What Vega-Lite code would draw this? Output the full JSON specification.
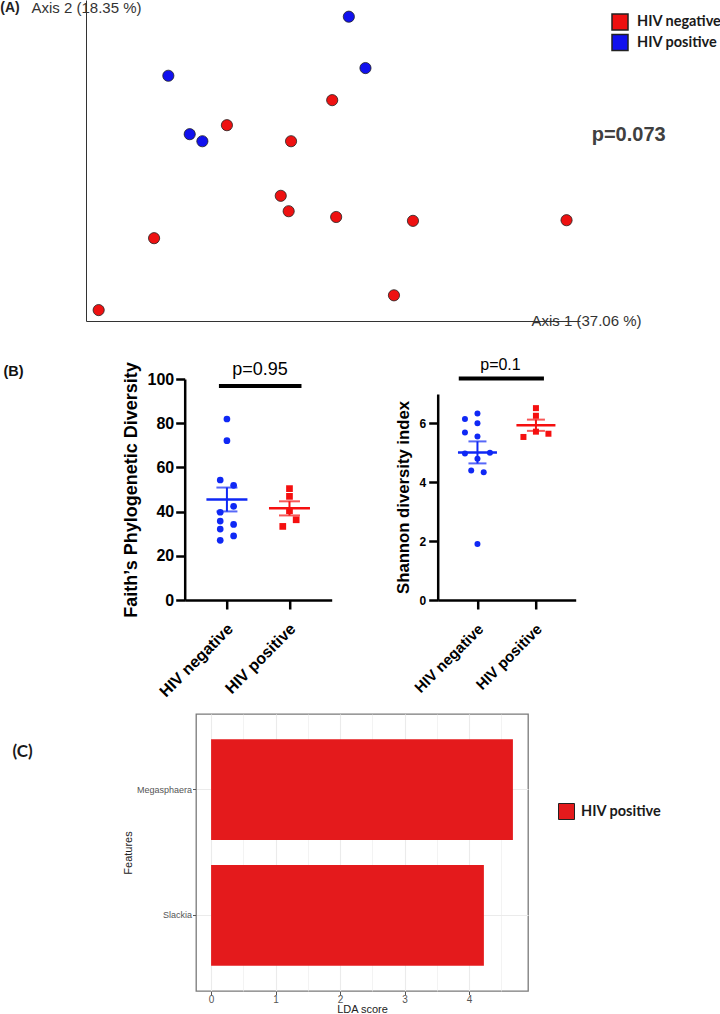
{
  "$schema": "https://vega.github.io/schema/vega-lite/v6.json",
  "background": "white",
  "padding": 0,
  "config": {"view": {"stroke": null}, "font": "Liberation Sans", "axis": {"grid": false}},
  "columns": 1,
  "align": "none",
  "spacing": 28,
  "resolve": {"scale": {"color": "independent", "shape": "independent", "x": "independent", "y": "independent", "xOffset": "independent"}, "legend": {"color": "independent", "shape": "independent"}},
  "concat": [
    {
      "columns": 2,
      "align": "none",
      "spacing": 11,
      "resolve": {"scale": {"color": "independent", "shape": "independent", "x": "independent", "y": "independent"}, "legend": {"color": "independent"}},
      "concat": [
        {
          "width": 20,
          "height": 15,
          "view": {"fill": "white", "stroke": null},
          "data": {"values": [{"panel": "(A)"}]},
          "mark": {"type": "text", "font": "Liberation Sans", "fontSize": 14, "fontWeight": "bold", "color": "#222", "align": "center", "baseline": "middle"},
          "encoding": {"text": {"field": "panel"}}
        },
        {
          "width": 494,
          "height": 321,
          "layer": [
            {
              "data": {"values": [
                {"status": "HIV positive", "axis1": 0.032, "axis2": 0.224},
                {"status": "HIV positive", "axis1": 0.053, "axis2": 0.144},
                {"status": "HIV positive", "axis1": -0.196, "axis2": 0.132},
                {"status": "HIV positive", "axis1": -0.169, "axis2": 0.041},
                {"status": "HIV positive", "axis1": -0.153, "axis2": 0.030},
                {"status": "HIV negative", "axis1": 0.011, "axis2": 0.094},
                {"status": "HIV negative", "axis1": -0.122, "axis2": 0.055},
                {"status": "HIV negative", "axis1": -0.041, "axis2": 0.030},
                {"status": "HIV negative", "axis1": -0.054, "axis2": -0.055},
                {"status": "HIV negative", "axis1": -0.044, "axis2": -0.079},
                {"status": "HIV negative", "axis1": 0.016, "axis2": -0.088},
                {"status": "HIV negative", "axis1": 0.113, "axis2": -0.094},
                {"status": "HIV negative", "axis1": 0.307, "axis2": -0.093},
                {"status": "HIV negative", "axis1": -0.214, "axis2": -0.121},
                {"status": "HIV negative", "axis1": 0.089, "axis2": -0.210},
                {"status": "HIV negative", "axis1": -0.284, "axis2": -0.233}
              ]},
              "mark": {"type": "circle", "size": 125, "opacity": 1, "stroke": "#222", "strokeWidth": 0.8},
              "encoding": {
                "x": {"field": "axis1", "type": "quantitative", "scale": {"domain": [-0.3, 0.324], "nice": false, "zero": false},
                  "axis": {"title": "Axis 1 (37.06 %)", "labels": false, "ticks": false, "grid": false, "domainColor": "#333", "domainWidth": 1, "titleX": 445, "titleY": -1, "titleAlign": "left", "titleBaseline": "middle", "titleFont": "Liberation Sans", "titleFontSize": 15, "titleFontWeight": "normal", "titleColor": "#333"}},
                "y": {"field": "axis2", "type": "quantitative", "scale": {"domain": [-0.25, 0.25], "nice": false, "zero": false},
                  "axis": {"title": "Axis 2 (18.35 %)", "labels": false, "ticks": false, "grid": false, "domainColor": "#333", "domainWidth": 1, "titleAngle": 0, "titleX": -55, "titleY": 7, "titleAlign": "left", "titleBaseline": "middle", "titleFont": "Liberation Sans", "titleFontSize": 15, "titleFontWeight": "normal", "titleColor": "#333"}},
                "color": {"field": "status", "type": "nominal", "scale": {"domain": ["HIV negative", "HIV positive"], "range": ["#ee1111", "#1111ee"]},
                  "legend": {"title": null, "orient": "none", "legendX": 525, "legendY": 13, "symbolType": "square", "symbolSize": 256, "symbolOpacity": 1, "labelFont": "Lato", "labelFontSize": 14.5, "labelFontWeight": "bold", "labelColor": "#1a1a1a", "labelOffset": 8, "rowPadding": -1.5, "padding": 0, "labelLimit": 0,
                    "encode": {"symbols": {"update": {"stroke": {"value": "#222"}, "strokeWidth": {"value": 1}}}}}}
              }
            },
            {
              "data": {"values": [{"label": "p=0.073"}]},
              "mark": {"type": "text", "font": "Liberation Sans", "fontSize": 20, "fontWeight": "bold", "color": "#404040", "align": "center", "baseline": "middle"},
              "encoding": {"x": {"datum": 0.3855}, "y": {"datum": 0.0397}, "text": {"field": "label"}}
            }
          ]
        }
      ]
    },
    {
      "columns": 1,
      "align": "none",
      "spacing": 13,
      "resolve": {"scale": {"color": "independent", "shape": "independent", "x": "independent", "y": "independent", "xOffset": "independent"}, "legend": {"color": "independent", "shape": "independent"}},
      "concat": [
        {
          "columns": 2,
          "align": "none",
          "spacing": 94.7,
          "resolve": {"scale": {"color": "independent", "shape": "independent", "x": "independent", "y": "independent", "xOffset": "independent"}, "legend": {"color": "independent", "shape": "independent"}},
          "concat": [
            {
              "width": 27,
              "height": 1,
              "view": {"fill": "white", "stroke": null},
              "data": {"values": [{"panel": "(B)"}]},
              "mark": {"type": "text", "font": "Liberation Sans", "fontSize": 14.5, "fontWeight": "bold", "color": "#111", "align": "center", "baseline": "middle", "dy": -7.5},
              "encoding": {"text": {"field": "panel"}}
            },
            {
              "columns": 2,
              "align": "none",
              "spacing": 63,
              "resolve": {"scale": {"color": "independent", "shape": "independent", "x": "independent", "y": "independent", "xOffset": "independent"}, "legend": {"color": "independent", "shape": "independent"}},
              "concat": [
                {
                  "width": 147,
                  "height": 221,
                  "data": {"values": [
                    {"group": "HIV negative", "value": 81.9, "j": 0},
                    {"group": "HIV negative", "value": 72.1, "j": 0},
                    {"group": "HIV negative", "value": 54.3, "j": -1},
                    {"group": "HIV negative", "value": 51.9, "j": 1},
                    {"group": "HIV negative", "value": 42.4, "j": 1},
                    {"group": "HIV negative", "value": 39.7, "j": -1},
                    {"group": "HIV negative", "value": 35.7, "j": -1},
                    {"group": "HIV negative", "value": 34.2, "j": 1},
                    {"group": "HIV negative", "value": 32.1, "j": -1},
                    {"group": "HIV negative", "value": 27.0, "j": -1},
                    {"group": "HIV negative", "value": 29.0, "j": 1},
                    {"group": "HIV positive", "value": 50.4, "j": 0},
                    {"group": "HIV positive", "value": 46.9, "j": 0},
                    {"group": "HIV positive", "value": 40.4, "j": 0},
                    {"group": "HIV positive", "value": 36.3, "j": 1},
                    {"group": "HIV positive", "value": 33.3, "j": -1}
                  ]},
                  "layer": [
                    {
                      "mark": {"type": "point", "filled": true, "opacity": 1, "size": 45},
                      "encoding": {
                        "x": {"field": "group", "type": "nominal", "title": null, "scale": {"type": "point", "padding": 0.675, "domain": ["HIV negative", "HIV positive"]},
                          "axis": {"labelAngle": -45, "labelAlign": "right", "labelBaseline": "middle", "labelFont": "Liberation Sans", "labelFontSize": 16, "labelFontWeight": "bold", "labelColor": "#000", "labelPadding": 17, "labelOffset": 3, "labelLimit": 0, "tickSize": 9, "tickWidth": 2.5, "tickColor": "#000", "domainColor": "#000", "domainWidth": 2.5}},
                        "xOffset": {"field": "j", "type": "quantitative", "scale": {"domain": [-2, 2], "range": [-13.4, 13.4]}},
                        "y": {"field": "value", "type": "quantitative", "title": "Faith’s Phylogenetic Diversity", "scale": {"domain": [0, 100], "nice": false},
                          "axis": {"values": [0, 20, 40, 60, 80, 100], "labelFont": "Liberation Sans", "labelFontSize": 16, "labelFontWeight": "bold", "labelColor": "#000", "labelPadding": 2, "tickSize": 9, "tickWidth": 2.5, "tickColor": "#000", "domainColor": "#000", "domainWidth": 2.5, "titleFont": "Liberation Sans", "titleFontSize": 18, "titleFontWeight": "bold", "titleColor": "#000", "titlePadding": 7}},
                        "color": {"field": "group", "type": "nominal", "scale": {"domain": ["HIV negative", "HIV positive"], "range": ["#0f28f5", "#f50f0f"]}, "legend": null},
                        "shape": {"field": "group", "type": "nominal", "scale": {"domain": ["HIV negative", "HIV positive"], "range": ["circle", "square"]}, "legend": null}
                      }
                    },
                    {
                      "mark": {"type": "tick", "size": 41, "thickness": 2.5, "opacity": 1},
                      "encoding": {
                        "x": {"field": "group", "type": "nominal", "title": null},
                        "y": {"aggregate": "mean", "field": "value", "type": "quantitative", "title": "Faith’s Phylogenetic Diversity"},
                        "color": {"field": "group", "type": "nominal", "legend": null}
                      }
                    },
                    {
                      "mark": {"type": "errorbar", "extent": "stderr", "ticks": true, "size": 21, "thickness": 2},
                      "encoding": {
                        "x": {"field": "group", "type": "nominal", "title": null},
                        "y": {"field": "value", "type": "quantitative", "title": "Faith’s Phylogenetic Diversity"},
                        "color": {"field": "group", "type": "nominal", "legend": null}
                      }
                    },
                    {
                      "data": {"values": [{"comparison": "HIV negative vs HIV positive"}]},
                      "mark": {"type": "rule", "strokeWidth": 4, "color": "#000", "xOffset": -8, "x2Offset": 12},
                      "encoding": {"x": {"datum": "HIV negative"}, "x2": {"datum": "HIV positive"}, "y": {"datum": 96.8}}
                    },
                    {
                      "data": {"values": [{"label": "p=0.95"}]},
                      "mark": {"type": "text", "font": "Liberation Sans", "fontSize": 18, "color": "#000", "align": "center", "baseline": "middle", "dx": 33},
                      "encoding": {"x": {"datum": "HIV negative"}, "y": {"datum": 104.2}, "text": {"field": "label"}}
                    }
                  ]
                },
                {
                  "width": 138,
                  "height": 221,
                  "data": {"values": [
                    {"group": "HIV negative", "value": 6.34, "j": 0},
                    {"group": "HIV negative", "value": 6.15, "j": -2},
                    {"group": "HIV negative", "value": 6.01, "j": 0},
                    {"group": "HIV negative", "value": 5.69, "j": -2},
                    {"group": "HIV negative", "value": 5.56, "j": 0},
                    {"group": "HIV negative", "value": 4.98, "j": -2},
                    {"group": "HIV negative", "value": 5.0, "j": 2},
                    {"group": "HIV negative", "value": 4.80, "j": 0},
                    {"group": "HIV negative", "value": 4.40, "j": -1},
                    {"group": "HIV negative", "value": 4.34, "j": 1},
                    {"group": "HIV negative", "value": 1.90, "j": 0},
                    {"group": "HIV positive", "value": 6.52, "j": 0},
                    {"group": "HIV positive", "value": 6.26, "j": 0},
                    {"group": "HIV positive", "value": 5.54, "j": -2},
                    {"group": "HIV positive", "value": 5.72, "j": 0},
                    {"group": "HIV positive", "value": 5.65, "j": 2}
                  ]},
                  "layer": [
                    {
                      "mark": {"type": "point", "filled": true, "opacity": 1, "size": 36},
                      "encoding": {
                        "x": {"field": "group", "type": "nominal", "title": null, "scale": {"type": "point", "padding": 0.68, "domain": ["HIV negative", "HIV positive"]},
                          "axis": {"labelAngle": -45, "labelAlign": "right", "labelBaseline": "middle", "labelFont": "Liberation Sans", "labelFontSize": 15, "labelFontWeight": "bold", "labelColor": "#000", "labelPadding": 17, "labelOffset": 3, "labelLimit": 0, "tickSize": 9, "tickWidth": 2.5, "tickColor": "#000", "domainColor": "#000", "domainWidth": 2.5}},
                        "xOffset": {"field": "j", "type": "quantitative", "scale": {"domain": [-2, 2], "range": [-12.5, 12.5]}},
                        "y": {"field": "value", "type": "quantitative", "title": "Shannon diversity index", "scale": {"domain": [0, 7], "nice": false, "range": [221, 15]},
                          "axis": {"values": [0, 2, 4, 6], "labelFont": "Liberation Sans", "labelFontSize": 12, "labelFontWeight": "bold", "labelColor": "#000", "labelPadding": 3, "tickSize": 9, "tickWidth": 2.5, "tickColor": "#000", "domainColor": "#000", "domainWidth": 2.5, "titleFont": "Liberation Sans", "titleFontSize": 16.7, "titleFontWeight": "bold", "titleColor": "#000", "titlePadding": 7}},
                        "color": {"field": "group", "type": "nominal", "scale": {"domain": ["HIV negative", "HIV positive"], "range": ["#0f28f5", "#f50f0f"]}, "legend": null},
                        "shape": {"field": "group", "type": "nominal", "scale": {"domain": ["HIV negative", "HIV positive"], "range": ["circle", "square"]}, "legend": null}
                      }
                    },
                    {
                      "mark": {"type": "tick", "size": 39, "thickness": 2.5, "opacity": 1},
                      "encoding": {
                        "x": {"field": "group", "type": "nominal", "title": null},
                        "y": {"aggregate": "mean", "field": "value", "type": "quantitative", "title": "Shannon diversity index"},
                        "color": {"field": "group", "type": "nominal", "legend": null}
                      }
                    },
                    {
                      "mark": {"type": "errorbar", "extent": "stderr", "ticks": true, "size": 18, "thickness": 2},
                      "encoding": {
                        "x": {"field": "group", "type": "nominal", "title": null},
                        "y": {"field": "value", "type": "quantitative", "title": "Shannon diversity index"},
                        "color": {"field": "group", "type": "nominal", "legend": null}
                      }
                    },
                    {
                      "data": {"values": [{"comparison": "HIV negative vs HIV positive"}]},
                      "mark": {"type": "rule", "strokeWidth": 4, "color": "#000", "xOffset": -18.7, "x2Offset": 8},
                      "encoding": {"x": {"datum": "HIV negative"}, "x2": {"datum": "HIV positive"}, "y": {"datum": 7.53}}
                    },
                    {
                      "data": {"values": [{"label": "p=0.1"}]},
                      "mark": {"type": "text", "font": "Liberation Sans", "fontSize": 16, "color": "#000", "align": "center", "baseline": "middle", "dx": 23},
                      "encoding": {"x": {"datum": "HIV negative"}, "y": {"datum": 7.99}, "text": {"field": "label"}}
                    }
                  ]
                }
              ]
            }
          ]
        },
        {
          "columns": 2,
          "align": "none",
          "spacing": 76,
          "resolve": {"scale": {"color": "independent", "x": "independent", "y": "independent"}, "legend": {"color": "independent"}},
          "concat": [
            {
              "width": 45,
              "height": 76,
              "view": {"fill": "white", "stroke": null},
              "data": {"values": [{"panel": "(C)"}]},
              "mark": {"type": "text", "font": "Lato", "fontSize": 17, "fontWeight": "bold", "color": "#1a1a1a", "align": "center", "baseline": "middle"},
              "encoding": {"text": {"field": "panel"}}
            },
            {
              "width": 332,
              "height": 277,
              "view": {"stroke": "#7a7a7a", "strokeWidth": 1.3},
              "data": {"values": [
                {"feature": "Megasphaera", "lda": 4.68, "class": "HIV positive"},
                {"feature": "Slackia", "lda": 4.23, "class": "HIV positive"}
              ]},
              "mark": {"type": "bar"},
              "encoding": {
                "y": {"field": "feature", "type": "nominal", "sort": ["Megasphaera", "Slackia"], "title": "Features", "scale": {"paddingInner": 0.2, "paddingOuter": 0.2},
                  "axis": {"bandPosition": 0.5, "grid": true, "gridColor": "#ebebeb", "gridWidth": 1, "domain": false, "labelFont": "Liberation Sans", "labelFontSize": 9, "labelColor": "#555", "labelPadding": 1, "tickSize": 3.5, "tickColor": "#555", "tickWidth": 1, "titleFont": "Liberation Sans", "titleFontSize": 11, "titleFontWeight": "normal", "titleColor": "#222", "titlePadding": 3}},
                "x": {"field": "lda", "type": "quantitative", "title": "LDA score", "scale": {"domain": [-0.234, 4.914], "nice": false},
                  "axis": {"values": [0, 0.5, 1, 1.5, 2, 2.5, 3, 3.5, 4, 4.5], "labelExpr": "datum.value % 1 === 0 ? format(datum.value, 'd') : ''", "grid": true, "gridColor": "#ebebeb",
                    "gridWidth": {"condition": {"test": "datum.value % 1 !== 0", "value": 0.6}, "value": 1.1},
                    "tickOpacity": {"condition": {"test": "datum.value % 1 !== 0", "value": 0}, "value": 1},
                    "domain": false, "tickSize": 3.5, "tickColor": "#555", "tickWidth": 1, "labelFont": "Liberation Sans", "labelFontSize": 10, "labelColor": "#555", "labelPadding": 0, "titleFont": "Liberation Sans", "titleFontSize": 11, "titleFontWeight": "normal", "titleColor": "#222", "titlePadding": -1}},
                "color": {"field": "class", "type": "nominal", "scale": {"domain": ["HIV positive"], "range": ["#e41a1c"]},
                  "legend": {"title": null, "orient": "none", "legendX": 362, "legendY": 89, "symbolType": "square", "symbolSize": 256, "symbolOpacity": 1, "labelFont": "Lato", "labelFontSize": 14.5, "labelFontWeight": "bold", "labelColor": "#1a1a1a", "labelOffset": 6, "padding": 0, "labelLimit": 0,
                    "encode": {"symbols": {"update": {"fill": {"value": "#ff0000"}, "stroke": {"value": "#222"}, "strokeWidth": {"value": 1}}}}}}
              }
            }
          ]
        }
      ]
    }
  ]
}
